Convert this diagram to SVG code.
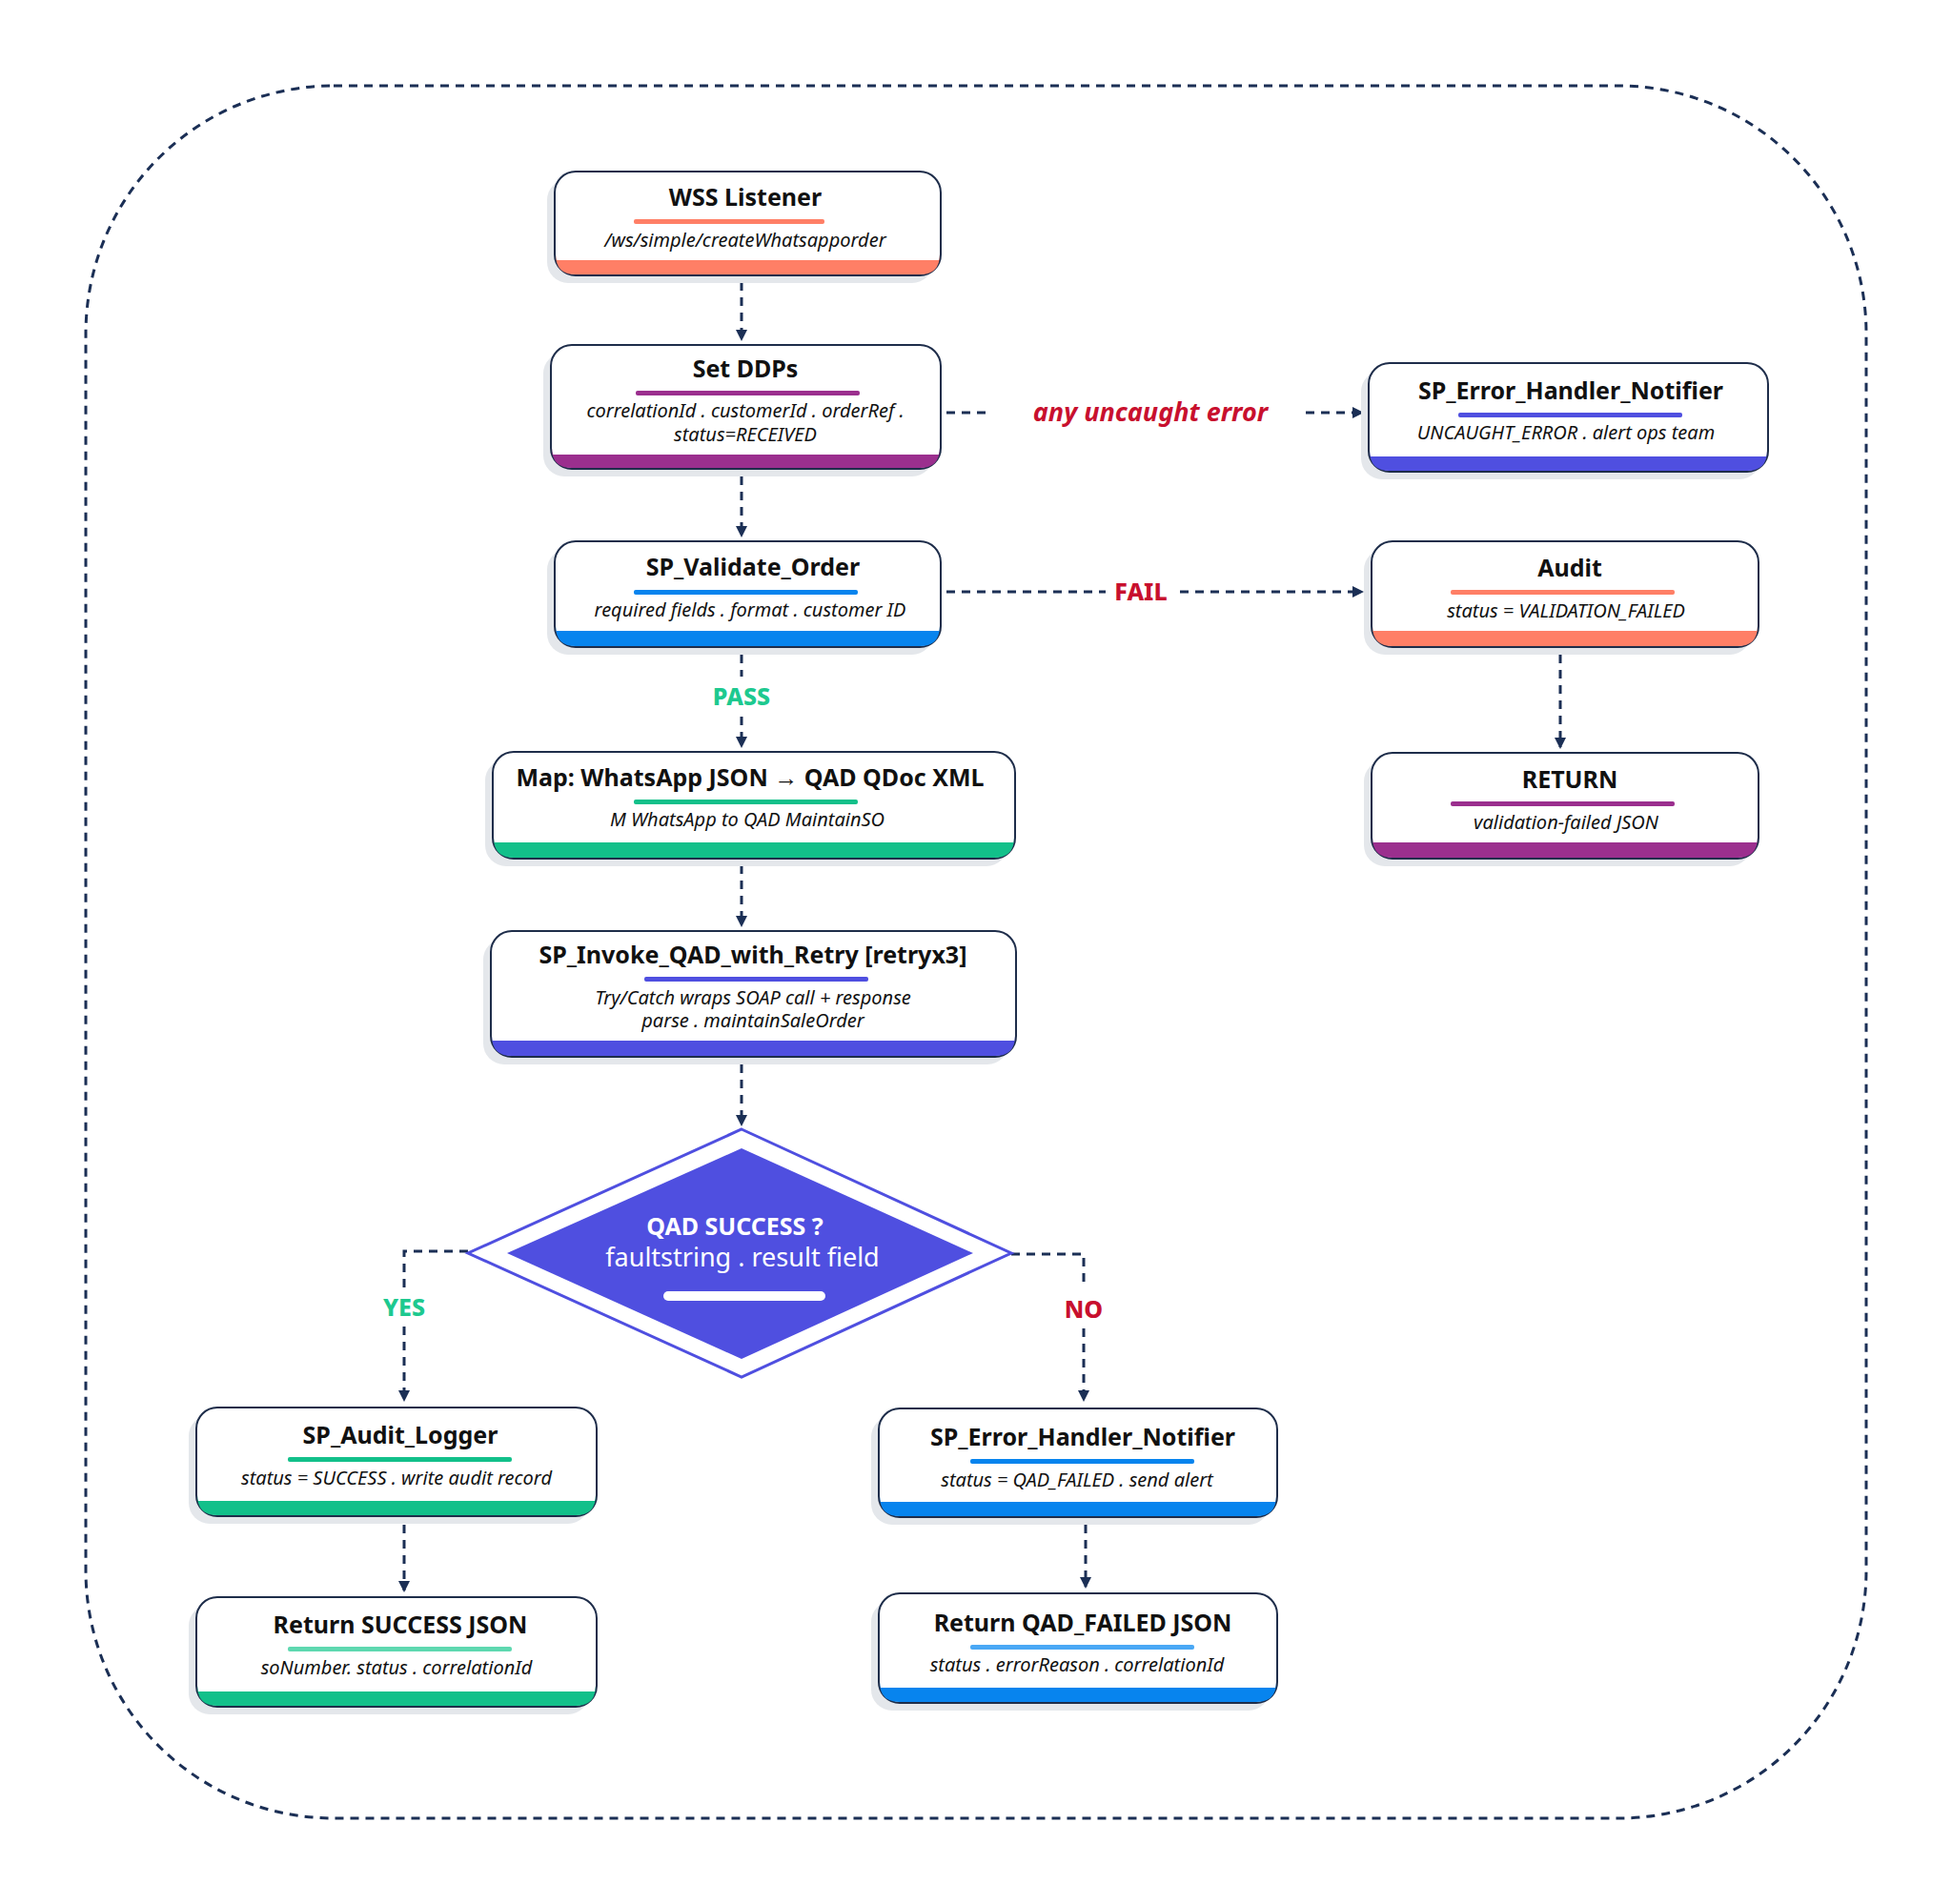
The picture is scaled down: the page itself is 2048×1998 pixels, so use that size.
<svg xmlns="http://www.w3.org/2000/svg" width="2048" height="1998" viewBox="0 0 2048 1998">
<style>
.sh{fill:#e4e7eb}
.bx{fill:#fff;stroke:#1e2d4a;stroke-width:2}
.t{font-family:"Noto Sans","Open Sans",sans-serif;font-weight:700;font-size:25px;fill:#111;text-anchor:middle}
.s{font-family:"Noto Sans","Open Sans",sans-serif;font-style:italic;font-size:20px;fill:#111;text-anchor:middle}
.c{fill:none;stroke:#1b2f55;stroke-width:3;stroke-dasharray:9 7}
.lb{font-family:"Noto Sans","Open Sans",sans-serif;font-weight:800;font-size:25px;text-anchor:middle}
</style>
<defs>
<marker id="ah" markerWidth="12" markerHeight="12" refX="10" refY="6" orient="auto" markerUnits="userSpaceOnUse" viewBox="0 0 12 12"><path d="M0,0 L12,6 L0,12 Z" fill="#1b2f55"/></marker>
</defs>
<rect x="90" y="90" width="1868" height="1818" rx="260" fill="none" stroke="#1b2f55" stroke-width="3" stroke-dasharray="9 7"/>

<g id="connectors">
<path class="c" d="M778 296 V356" marker-end="url(#ah)"/>
<path class="c" d="M778 500 V562" marker-end="url(#ah)"/>
<path class="c" d="M778 687 V710 M778 752 V783" marker-end="url(#ah)"/>
<path class="c" d="M778 908 V971" marker-end="url(#ah)"/>
<path class="c" d="M778 1117 V1180" marker-end="url(#ah)"/>
<path class="c" d="M491 1313 H424 V1352 M424 1392 V1469" marker-end="url(#ah)"/>
<path class="c" d="M1061 1316 H1137 V1352 M1137 1394 V1469" marker-end="url(#ah)"/>
<path class="c" d="M424 1600 V1669" marker-end="url(#ah)"/>
<path class="c" d="M1139 1600 V1665" marker-end="url(#ah)"/>
<path class="c" d="M993 433 H1040 M1370 433 H1429" marker-end="url(#ah)"/>
<path class="c" d="M993 621 H1160 M1238 621 H1429" marker-end="url(#ah)"/>
<path class="c" d="M1637 687 V784" marker-end="url(#ah)"/>
<text class="lb" x="778" y="740" fill="#1dc98f">PASS</text>
<text class="lb" x="424" y="1381" fill="#1dc98f">YES</text>
<text class="lb" x="1137" y="1383" fill="#c8102e">NO</text>
<text class="lb" x="1197" y="630" fill="#c8102e">FAIL</text>
<text x="1207" y="442" font-family="Noto Sans, sans-serif" font-style="italic" font-weight="700" font-size="27" fill="#c8102e" text-anchor="middle">any uncaught error</text>
</g>

<g id="wss">
<rect class="sh" x="574" y="188" width="405" height="109" rx="22"/>
<rect class="bx" x="582" y="180" width="405" height="109" rx="22"/>
<path d="M583 273 H986 V267 Q986 288 965 288 H604 Q583 288 583 267 Z" fill="#ff7f66"/>
<text class="t" x="782" y="216">WSS Listener</text>
<rect x="665" y="230" width="200" height="5" rx="2" fill="#ff7f66"/>
<text class="s" x="782" y="259">/ws/simple/createWhatsapporder</text>
</g>

<g id="setddps">
<rect class="sh" x="570" y="370" width="409" height="130" rx="22"/>
<rect class="bx" x="578" y="362" width="409" height="130" rx="22"/>
<path d="M579 477 H986 V470 Q986 491 965 491 H600 Q579 491 579 470 Z" fill="#9b2f8e"/>
<text class="t" x="782" y="396">Set DDPs</text>
<rect x="667" y="410" width="235" height="5" rx="2" fill="#9b2f8e"/>
<text class="s" x="782" y="438">correlationId . customerId . orderRef .</text>
<text class="s" x="782" y="463">status=RECEIVED</text>
</g>

<g id="validate">
<rect class="sh" x="574" y="576" width="405" height="111" rx="22"/>
<rect class="bx" x="582" y="568" width="405" height="111" rx="22"/>
<path d="M583 662 H986 V657 Q986 678 965 678 H604 Q583 678 583 657 Z" fill="#0784ee"/>
<text class="t" x="790" y="604">SP_Validate_Order</text>
<rect x="665" y="619" width="235" height="5" rx="2" fill="#0784ee"/>
<text class="s" x="787" y="647">required fields . format . customer ID</text>
</g>

<g id="map">
<rect class="sh" x="509" y="797" width="548" height="112" rx="22"/>
<rect class="bx" x="517" y="789" width="548" height="112" rx="22"/>
<path d="M518 884 H1064 V879 Q1064 900 1043 900 H539 Q518 900 518 879 Z" fill="#12c08a"/>
<text class="t" x="787" y="825">Map: WhatsApp JSON → QAD QDoc XML</text>
<rect x="665" y="839" width="235" height="5" rx="2" fill="#12c08a"/>
<text class="s" x="784" y="867">M WhatsApp to QAD MaintainSO</text>
</g>

<g id="invoke">
<rect class="sh" x="507" y="985" width="551" height="132" rx="22"/>
<rect class="bx" x="515" y="977" width="551" height="132" rx="22"/>
<path d="M516 1092 H1065 V1087 Q1065 1108 1044 1108 H537 Q516 1108 516 1087 Z" fill="#4f4fe0"/>
<text class="t" x="790" y="1011">SP_Invoke_QAD_with_Retry [retryx3]</text>
<rect x="676" y="1025" width="235" height="5" rx="2" fill="#4f4fe0"/>
<text class="s" x="790" y="1054">Try/Catch wraps SOAP call + response</text>
<text class="s" x="790" y="1078">parse . maintainSaleOrder</text>
</g>

<g id="decision">
<polygon points="778,1185 1061,1315 778,1445 491,1315" fill="#fff" stroke="#4f4fe0" stroke-width="3"/>
<polygon points="778,1205 1021,1315 778,1426 532,1315" fill="#4f4fe0"/>
<text x="771" y="1296" font-family="Noto Sans, sans-serif" font-weight="700" font-size="25" fill="#fff" text-anchor="middle">QAD SUCCESS ?</text>
<text x="779" y="1329" font-family="Noto Sans, sans-serif" font-size="27" fill="#fff" text-anchor="middle">faultstring . result field</text>
<rect x="696" y="1355" width="170" height="10" rx="5" fill="#fff"/>
</g>

<g id="auditlogger">
<rect class="sh" x="198" y="1485" width="420" height="114" rx="22"/>
<rect class="bx" x="206" y="1477" width="420" height="114" rx="22"/>
<path d="M207 1575 H625 V1569 Q625 1590 604 1590 H228 Q207 1590 207 1569 Z" fill="#12c08a"/>
<text class="t" x="420" y="1515">SP_Audit_Logger</text>
<rect x="302" y="1529" width="235" height="5" rx="2" fill="#12c08a"/>
<text class="s" x="416" y="1558">status = SUCCESS . write audit record</text>
</g>

<g id="retsuccess">
<rect class="sh" x="198" y="1684" width="420" height="115" rx="22"/>
<rect class="bx" x="206" y="1676" width="420" height="115" rx="22"/>
<path d="M207 1775 H625 V1769 Q625 1790 604 1790 H228 Q207 1790 207 1769 Z" fill="#12c08a"/>
<text class="t" x="420" y="1714">Return SUCCESS JSON</text>
<rect x="302" y="1728" width="235" height="5" rx="2" fill="#5ed8b0"/>
<text class="s" x="416" y="1757">soNumber. status . correlationId</text>
</g>

<g id="errbottom">
<rect class="sh" x="914" y="1486" width="418" height="114" rx="22"/>
<rect class="bx" x="922" y="1478" width="418" height="114" rx="22"/>
<path d="M923 1576 H1339 V1570 Q1339 1591 1318 1591 H944 Q923 1591 923 1570 Z" fill="#0784ee"/>
<text class="t" x="1136" y="1517">SP_Error_Handler_Notifier</text>
<rect x="1018" y="1531" width="235" height="5" rx="2" fill="#0784ee"/>
<text class="s" x="1130" y="1560">status = QAD_FAILED . send alert</text>
</g>

<g id="retfailed">
<rect class="sh" x="914" y="1680" width="418" height="115" rx="22"/>
<rect class="bx" x="922" y="1672" width="418" height="115" rx="22"/>
<path d="M923 1771 H1339 V1765 Q1339 1786 1318 1786 H944 Q923 1786 923 1765 Z" fill="#0784ee"/>
<text class="t" x="1136" y="1712">Return QAD_FAILED JSON</text>
<rect x="1018" y="1726" width="235" height="5" rx="2" fill="#4aa8f5"/>
<text class="s" x="1130" y="1754">status . errorReason . correlationId</text>
</g>

<g id="errtop">
<rect class="sh" x="1428" y="389" width="419" height="114" rx="22"/>
<rect class="bx" x="1436" y="381" width="419" height="114" rx="22"/>
<path d="M1437 479 H1854 V473 Q1854 494 1833 494 H1458 Q1437 494 1437 473 Z" fill="#4f4fe0"/>
<text class="t" x="1648" y="419">SP_Error_Handler_Notifier</text>
<rect x="1530" y="433" width="235" height="5" rx="2" fill="#4f4fe0"/>
<text class="s" x="1643" y="461">UNCAUGHT_ERROR . alert ops team</text>
</g>

<g id="audit">
<rect class="sh" x="1431" y="576" width="406" height="111" rx="22"/>
<rect class="bx" x="1439" y="568" width="406" height="111" rx="22"/>
<path d="M1440 662 H1844 V657 Q1844 678 1823 678 H1461 Q1440 678 1440 657 Z" fill="#ff7f66"/>
<text class="t" x="1647" y="605">Audit</text>
<rect x="1522" y="619" width="235" height="5" rx="2" fill="#ff7f66"/>
<text class="s" x="1643" y="648">status = VALIDATION_FAILED</text>
</g>

<g id="return">
<rect class="sh" x="1431" y="798" width="406" height="111" rx="22"/>
<rect class="bx" x="1439" y="790" width="406" height="111" rx="22"/>
<path d="M1440 884 H1844 V879 Q1844 900 1823 900 H1461 Q1440 900 1440 879 Z" fill="#9b2f8e"/>
<text class="t" x="1647" y="827">RETURN</text>
<rect x="1522" y="841" width="235" height="5" rx="2" fill="#9b2f8e"/>
<text class="s" x="1643" y="870">validation-failed JSON</text>
</g>
</svg>
